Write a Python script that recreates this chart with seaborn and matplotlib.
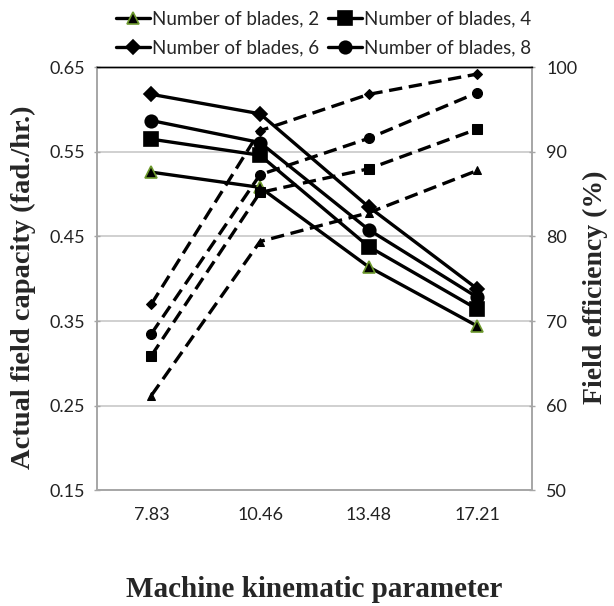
import matplotlib
matplotlib.use("Agg")
import matplotlib.pyplot as plt
from matplotlib.lines import Line2D
from matplotlib.ticker import FixedLocator, NullFormatter
import seaborn as sns
import pandas as pd

categories = ["7.83", "10.46", "13.48", "17.21"]
blades = ["2", "4", "6", "8"]
capacity_2 = [0.526, 0.508, 0.414, 0.344]
capacity_4 = [0.565, 0.546, 0.438, 0.364]
capacity_6 = [0.618, 0.595, 0.485, 0.388]
capacity_8 = [0.587, 0.561, 0.458, 0.378]
efficiency_2 = [61.2, 79.4, 82.8, 87.8]
efficiency_4 = [65.9, 85.2, 88.0, 92.7]
efficiency_6 = [72.0, 92.5, 96.8, 99.2]
efficiency_8 = [68.5, 87.3, 91.6, 97.0]
left_ticks = [0.15, 0.25, 0.35, 0.45, 0.55, 0.65]
right_ticks = [50, 60, 70, 80, 90, 100]

capacities = [capacity_2, capacity_4, capacity_6, capacity_8]
efficiencies = [efficiency_2, efficiency_4, efficiency_6, efficiency_8]

sns.set_style("white")
plt.rcParams["font.family"] = ["Lato", "DejaVu Sans"]

markers = {"2": "^", "4": "s", "6": "D", "8": "o"}
msizes = {"2": 8, "4": 9.5, "6": 7, "8": 9}
green = "#6e9a2e"
grid_c = "#c8c8c8"
spine_c = "#a6a6a6"

fig = plt.figure(figsize=(6.14, 6.06), dpi=100)
ax = fig.add_axes([0.158, 0.191, 0.708, 0.698])
ax2 = ax.twinx()

for b, cap, eff in zip(blades, capacities, efficiencies):
    df = pd.DataFrame({"x": categories, "cap": cap, "eff": eff})
    edge = green if b == "2" else "black"
    sns.lineplot(data=df, x="x", y="cap", ax=ax, color="black", linewidth=2.4,
                 marker=markers[b], markersize=msizes[b], markerfacecolor="black",
                 markeredgecolor=edge, markeredgewidth=1.2, sort=False, zorder=3)
    sns.lineplot(data=df, x="x", y="eff", ax=ax2, color="black", linewidth=2.4,
                 linestyle=(0, (4, 2)), marker=markers[b], markersize=msizes[b] * 0.8,
                 markerfacecolor="black", markeredgecolor="black", sort=False, zorder=3)

ax.set_xlim(-0.5, len(categories) - 0.5)
ax.set_ylim(left_ticks[0], left_ticks[-1])
ax2.set_ylim(right_ticks[0], right_ticks[-1])
ax.set_yticks(left_ticks)
ax.set_yticklabels([f"{t:.2f}" for t in left_ticks])
ax2.set_yticks(right_ticks)
ax2.set_yticklabels([str(t) for t in right_ticks])

ax.yaxis.grid(True, color=grid_c, linewidth=1.2)
ax.set_axisbelow(True)
ax.xaxis.grid(False)

ax.xaxis.set_major_locator(FixedLocator(range(len(categories))))
ax.set_xticklabels(categories)
ax.xaxis.set_minor_locator(FixedLocator([i + 0.5 for i in range(len(categories))]))
ax.xaxis.set_minor_formatter(NullFormatter())
ax.tick_params(axis="x", which="major", length=0, pad=12, labelsize=13, labelcolor="#222222")
ax.tick_params(axis="x", which="minor", length=5, color=spine_c, width=1, direction="out")
ax.tick_params(axis="y", length=5, color=spine_c, width=1, direction="inout", labelsize=13,
               pad=6, labelcolor="#222222")
ax2.tick_params(axis="y", length=5, color=spine_c, width=1, direction="inout", labelsize=13,
                pad=8, labelcolor="#222222")

for a in (ax, ax2):
    for s in ("left", "right", "bottom"):
        a.spines[s].set_color(spine_c)
        a.spines[s].set_linewidth(1.2)
    a.spines["top"].set_color("black")
    a.spines["top"].set_linewidth(1.0)

serif = ["Liberation Serif", "DejaVu Serif"]
ax.set_xlabel("Machine kinematic parameter", fontsize=21, fontweight="bold", family=serif,
              labelpad=38)
ax.set_ylabel("Actual field capacity (fad./hr.)", fontsize=20.5, fontweight="bold", family=serif)
ax2.set_ylabel("Field efficiency (%)", fontsize=20, fontweight="bold", family=serif)
ax.yaxis.set_label_coords(-0.14, 0.48)
ax2.yaxis.set_label_coords(1.118, 0.48)

handles = []
labels = []
for b in blades:
    edge = green if b == "2" else "black"
    handles.append(Line2D([], [], color="black", linewidth=2.4, marker=markers[b],
                          markersize=msizes[b], markerfacecolor="black", markeredgecolor=edge,
                          markeredgewidth=1.2))
    labels.append(f"Number of blades, {b}")
order = [0, 2, 1, 3]
fig.legend([handles[i] for i in order], [labels[i] for i in order], ncol=2,
           loc="upper center", bbox_to_anchor=(0.527, 1.01), frameon=False,
           fontsize=13.5, handlelength=1.8, handletextpad=0.1, columnspacing=0.5,
           labelspacing=0.6)

fig.savefig("out.png", dpi=100)
